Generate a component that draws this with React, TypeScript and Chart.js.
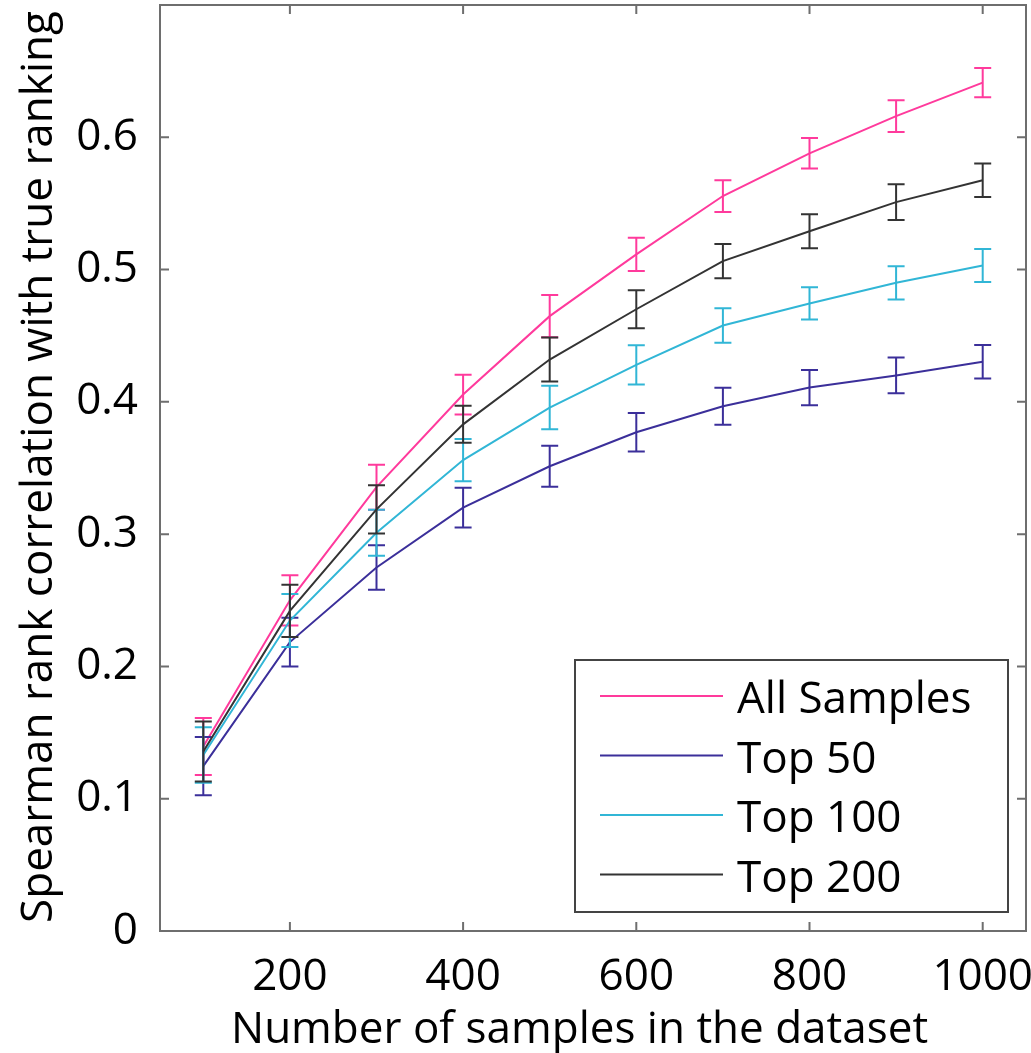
import { useEffect, useRef } from "react";
import { Chart, registerables } from "chart.js";

Chart.register(...registerables);

const sampleSizes = [100, 200, 300, 400, 500, 600, 700, 800, 900, 1000];

const allSamples = [0.1395, 0.25, 0.3355, 0.4055, 0.4648, 0.5115, 0.5556, 0.5879, 0.616, 0.6413];
const allSamplesErr = [0.0215, 0.019, 0.017, 0.015, 0.016, 0.0126, 0.012, 0.0115, 0.012, 0.011];

const top50 = [0.1246, 0.2184, 0.2748, 0.32, 0.3513, 0.377, 0.3967, 0.4108, 0.42, 0.4303];
const top50Err = [0.022, 0.0184, 0.0168, 0.015, 0.0155, 0.0145, 0.014, 0.0133, 0.0135, 0.0127];

const top100 = [0.133, 0.2347, 0.301, 0.356, 0.3957, 0.428, 0.4577, 0.4744, 0.49, 0.5031];
const top100Err = [0.021, 0.02, 0.0174, 0.016, 0.0165, 0.0148, 0.013, 0.0122, 0.0126, 0.0125];

const top200 = [0.1357, 0.242, 0.3187, 0.383, 0.432, 0.47, 0.5064, 0.529, 0.551, 0.5675];
const top200Err = [0.0227, 0.0197, 0.0183, 0.014, 0.0166, 0.0143, 0.013, 0.0129, 0.0135, 0.0127];

const seriesLabels = ["All Samples", "Top 50", "Top 100", "Top 200"];
const seriesColors = ["#ff3a9c", "#3b2f9a", "#31b6d6", "#333333"];
const seriesValues = [allSamples, top50, top100, top200];
const seriesErrors = [allSamplesErr, top50Err, top100Err, top200Err];

const xTicks = [200, 400, 600, 800, 1000];
const yTicks = [0, 0.1, 0.2, 0.3, 0.4, 0.5, 0.6];
const yTickLabels = ["0", "0.1", "0.2", "0.3", "0.4", "0.5", "0.6"];

const xTitle = "Number of samples in the dataset";
const yTitle = "Spearman rank correlation with true ranking";

const FONT = "'Open Sans', 'Noto Sans', sans-serif";
const FRAME = "#6e6e6e";

const decorPlugin = {
  id: "decor",
  afterDatasetDraw(chart: any, args: any) {
    const i = args.index;
    const xs = chart.scales.x;
    const ys = chart.scales.y;
    const ctx = chart.ctx;
    const vals = seriesValues[i];
    const errs = seriesErrors[i];
    ctx.save();
    ctx.strokeStyle = seriesColors[i];
    ctx.lineWidth = 2;
    const cap = 8.5;
    sampleSizes.forEach((n, j) => {
      const px = xs.getPixelForValue(n);
      const t = ys.getPixelForValue(vals[j] + errs[j]);
      const b = ys.getPixelForValue(vals[j] - errs[j]);
      ctx.beginPath();
      ctx.moveTo(px, t);
      ctx.lineTo(px, b);
      ctx.moveTo(px - cap, t);
      ctx.lineTo(px + cap, t);
      ctx.moveTo(px - cap, b);
      ctx.lineTo(px + cap, b);
      ctx.stroke();
    });
    ctx.restore();
  },
  afterDraw(chart: any) {
    const ctx = chart.ctx;
    const a = chart.chartArea;
    const xs = chart.scales.x;
    const ys = chart.scales.y;
    ctx.save();
    // frame
    ctx.strokeStyle = FRAME;
    ctx.lineWidth = 2;
    ctx.strokeRect(a.left, a.top, a.right - a.left, a.bottom - a.top);
    // inward ticks
    const tl = 9;
    ctx.beginPath();
    xTicks.forEach((v) => {
      const px = xs.getPixelForValue(v);
      ctx.moveTo(px, a.bottom);
      ctx.lineTo(px, a.bottom - tl);
      ctx.moveTo(px, a.top);
      ctx.lineTo(px, a.top + tl);
    });
    yTicks.forEach((v) => {
      const py = ys.getPixelForValue(v);
      ctx.moveTo(a.left, py);
      ctx.lineTo(a.left + tl, py);
      ctx.moveTo(a.right, py);
      ctx.lineTo(a.right - tl, py);
    });
    ctx.stroke();

    // legend
    const lx = 575, ly = 660, lw = 433, lh = 252;
    ctx.fillStyle = "#ffffff";
    ctx.fillRect(lx, ly, lw, lh);
    ctx.strokeStyle = "#444444";
    ctx.lineWidth = 2;
    ctx.strokeRect(lx, ly, lw, lh);
    ctx.font = `44px ${FONT}`;
    ctx.textAlign = "left";
    ctx.textBaseline = "alphabetic";
    seriesLabels.forEach((lab, i) => {
      const y = 696 + i * 59.5;
      ctx.strokeStyle = seriesColors[i];
      ctx.lineWidth = 2;
      ctx.beginPath();
      ctx.moveTo(600, y);
      ctx.lineTo(723, y);
      ctx.stroke();
      ctx.fillStyle = "#000000";
      ctx.fillText(lab, 737, y + 17);
    });

    // axis titles
    ctx.fillStyle = "#000000";
    ctx.font = `44px ${FONT}`;
    ctx.textAlign = "left";
    ctx.textBaseline = "alphabetic";
    ctx.fillText(xTitle, 231, 1043);
    ctx.save();
    ctx.translate(52, 467);
    ctx.rotate(-Math.PI / 2);
    ctx.textAlign = "center";
    ctx.fillText(yTitle, 0, 0);
    ctx.restore();
    ctx.restore();
  },
};

const zeroPad = (s: any) => {
  s.paddingTop = 0;
  s.paddingBottom = 0;
  s.paddingLeft = 0;
  s.paddingRight = 0;
};

export default function App() {
  const ref = useRef<HTMLCanvasElement | null>(null);
  useEffect(() => {
    document.body.style.margin = "0";
    const canvas = ref.current;
    if (!canvas) return;
    const chart = new Chart(canvas, {
      type: "line",
      data: {
        datasets: seriesLabels.map((label, i) => ({
          label,
          data: sampleSizes.map((x, j) => ({ x, y: seriesValues[i][j] })),
          borderColor: seriesColors[i],
          backgroundColor: seriesColors[i],
          borderWidth: 2,
          pointRadius: 0,
          tension: 0,
          order: seriesLabels.length - 1 - i,
        })),
      },
      options: {
        animation: false,
        responsive: false,
        devicePixelRatio: 1,
        layout: { padding: { top: 5, right: 5, left: 0, bottom: 0 } },
        plugins: {
          legend: { display: false },
          tooltip: { enabled: false },
          title: { display: false },
        },
        scales: {
          x: {
            type: "linear",
            min: 50,
            max: 1050,
            grid: { display: false, drawTicks: false },
            border: { display: false },
            afterBuildTicks: (s: any) => {
              s.ticks = xTicks.map((v) => ({ value: v }));
            },
            afterFit: (s: any) => {
              s.height = 122;
              zeroPad(s);
            },
            ticks: {
              maxRotation: 0,
              autoSkip: false,
              padding: 20,
              color: "#000000",
              font: { family: FONT, size: 44 },
              callback: (v: any) => String(v),
            },
          },
          y: {
            type: "linear",
            min: 0,
            max: 0.7,
            grid: { display: false, drawTicks: false },
            border: { display: false },
            afterBuildTicks: (s: any) => {
              s.ticks = yTicks.map((v) => ({ value: v }));
            },
            afterFit: (s: any) => {
              s.width = 160;
              zeroPad(s);
            },
            ticks: {
              autoSkip: false,
              padding: 22,
              color: "#000000",
              font: { family: FONT, size: 44 },
              callback: (v: any) => {
                const k = yTicks.findIndex((t) => Math.abs(t - v) < 1e-9);
                return k >= 0 ? yTickLabels[k] : "";
              },
            },
          },
        },
      },
      plugins: [decorPlugin],
    });
    return () => chart.destroy();
  }, []);
  return (
    <div style={{ position: "fixed", left: 0, top: 0, width: 1031, height: 1053, background: "#fff" }}>
      <canvas ref={ref} width={1031} height={1053} style={{ width: 1031, height: 1053, display: "block" }} />
    </div>
  );
}
